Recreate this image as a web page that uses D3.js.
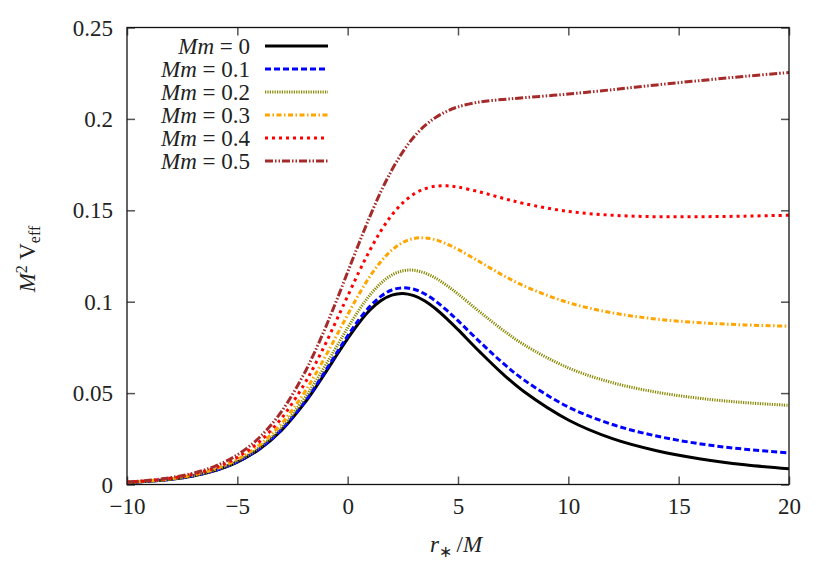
<!DOCTYPE html>
<html><head><meta charset="utf-8">
<script src="https://cdn.jsdelivr.net/npm/d3@7"></script>
<style>body{margin:0;background:#fff}svg{display:block}text{font-family:"Liberation Serif","Times New Roman",serif}</style>
</head><body>
<svg id="chart" width="830" height="581"></svg>
<script>
// r*/M sample positions
const rStar = [-10,-9,-8,-7,-6,-5,-4,-3,-2,-1.5,-1,-0.5,0,0.5,1,1.5,2,2.5,3,3.5,4,4.5,5,6,7,8,10,12,14,16,18,20];
const massLabels = ["0","0.1","0.2","0.3","0.4","0.5"];
const vMm00 = [0.0011,0.0018,0.0029,0.0047,0.0076,0.0122,0.0193,0.0296,0.0438,0.0522,0.0613,0.0707,0.0798,0.0882,0.0953,0.1005,0.1036,0.1045,0.1033,0.1004,0.0960,0.0906,0.0847,0.0724,0.0608,0.0507,0.0353,0.0251,0.0185,0.0140,0.0108,0.0086];
const vMm01 = [0.0011,0.0018,0.0029,0.0048,0.0077,0.0124,0.0195,0.0300,0.0444,0.0530,0.0623,0.0719,0.0813,0.0900,0.0973,0.1029,0.1064,0.1076,0.1068,0.1042,0.1002,0.0952,0.0896,0.0779,0.0668,0.0571,0.0424,0.0328,0.0265,0.0222,0.0193,0.0173];
const vMm02 = [0.0011,0.0018,0.0030,0.0049,0.0080,0.0128,0.0203,0.0313,0.0464,0.0555,0.0653,0.0755,0.0857,0.0952,0.1035,0.1100,0.1146,0.1169,0.1172,0.1157,0.1128,0.1088,0.1042,0.0943,0.0848,0.0764,0.0638,0.0557,0.0505,0.0471,0.0448,0.0433];
const vMm03 = [0.0012,0.0020,0.0032,0.0052,0.0085,0.0137,0.0216,0.0333,0.0496,0.0595,0.0702,0.0815,0.0929,0.1038,0.1137,0.1219,0.1282,0.1324,0.1346,0.1349,0.1338,0.1315,0.1286,0.1217,0.1147,0.1086,0.0995,0.0939,0.0905,0.0885,0.0873,0.0866];
const vMm04 = [0.0013,0.0021,0.0035,0.0057,0.0092,0.0148,0.0234,0.0362,0.0542,0.0651,0.0771,0.0900,0.1031,0.1160,0.1280,0.1386,0.1474,0.1541,0.1589,0.1618,0.1632,0.1634,0.1627,0.1600,0.1567,0.1537,0.1494,0.1473,0.1465,0.1465,0.1468,0.1473];
const vMm05 = [0.0014,0.0023,0.0038,0.0062,0.0101,0.0162,0.0257,0.0399,0.0600,0.0723,0.0860,0.1008,0.1162,0.1316,0.1464,0.1601,0.1720,0.1820,0.1901,0.1963,0.2009,0.2042,0.2066,0.2093,0.2106,0.2116,0.2136,0.2160,0.2186,0.2210,0.2233,0.2254];
const xTicks = [-10,-5,0,5,10,15,20];
const yTicks = [0,0.05,0.1,0.15,0.2,0.25];
const yTickLabels = ["0","0.05","0.1","0.15","0.2","0.25"];

const seriesValues = [vMm00,vMm01,vMm02,vMm03,vMm04,vMm05];
const styles = [
  {color:"#000000", dash:null, w:3},
  {color:"#0000ff", dash:"6,3", w:3},
  {color:"#888800", dash:"1.2,1.2", w:3},
  {color:"#ffa500", dash:"5,2.5,1.5,2.5", w:3},
  {color:"#ff0000", dash:"3,4", w:3},
  {color:"#a52a2a", dash:"8,2,1.5,2,1.5,2", w:3}
];

const svg = d3.select("#chart");
const L=127, R=789, T=27.5, B=484.5;
const FS = 23;
const x = d3.scaleLinear().domain([-10,20]).range([L,R]);
const y = d3.scaleLinear().domain([0,0.25]).range([B,T]);

svg.append("defs").append("clipPath").attr("id","clip")
  .append("rect").attr("x",L).attr("y",T).attr("width",R-L).attr("height",B-T);

// axes with inward ticks (mirror)
const tickLen = 8;
const gx = svg.append("g").attr("transform",`translate(0,${B})`)
  .call(d3.axisBottom(x).tickValues(xTicks).tickSize(-tickLen).tickPadding(14)
    .tickFormat(d => d<0 ? "\u2212"+Math.abs(d) : String(d)));
const gxt = svg.append("g").attr("transform",`translate(0,${T})`)
  .call(d3.axisTop(x).tickValues(xTicks).tickSize(-tickLen).tickFormat(""));
const gy = svg.append("g").attr("transform",`translate(${L},0)`)
  .call(d3.axisLeft(y).tickValues(yTicks).tickSize(-tickLen).tickPadding(14)
    .tickFormat((d,i)=>yTickLabels[i]));
const gyr = svg.append("g").attr("transform",`translate(${R},0)`)
  .call(d3.axisRight(y).tickValues(yTicks).tickSize(-tickLen).tickFormat(""));
[gx,gxt,gy,gyr].forEach(g=>{
  g.select(".domain").remove();
  g.selectAll(".tick line").attr("stroke","#555").attr("stroke-width",1.5);
  g.selectAll("text").attr("font-size",FS).attr("fill","#222")
    .attr("font-family","'Liberation Serif',serif");
});
gx.selectAll("text").attr("dy","0.66em");
gy.selectAll("text").attr("dy","0.33em");

// lines
const line = d3.line().x((d,i)=>x(rStar[i])).y(d=>y(d)).curve(d3.curveCatmullRom.alpha(0.5));
const plot = svg.append("g").attr("clip-path","url(#clip)");
seriesValues.forEach((vals,k)=>{
  plot.append("path").datum(vals).attr("d",line)
    .attr("fill","none").attr("stroke",styles[k].color)
    .attr("stroke-width",styles[k].w)
    .attr("stroke-dasharray",styles[k].dash)
    .attr("stroke-linejoin","round");
});

// frame
svg.append("rect").attr("x",L).attr("y",T).attr("width",R-L).attr("height",B-T)
  .attr("fill","none").attr("stroke","#111").attr("stroke-width",1.3);

// legend
const lg = svg.append("g");
massLabels.forEach((m,k)=>{
  const yy = 46 + k*23;
  const t = lg.append("text").attr("x",250).attr("y",yy).attr("dy","0.35em")
    .attr("text-anchor","end").attr("font-size",FS).attr("fill","#222");
  t.append("tspan").attr("font-style","italic").text("Mm");
  t.append("tspan").text(" = "+m);
  lg.append("line").attr("x1",265).attr("x2",328).attr("y1",yy).attr("y2",yy)
    .attr("stroke",styles[k].color).attr("stroke-width",styles[k].w)
    .attr("stroke-dasharray",styles[k].dash);
});

// axis titles
const xl = svg.append("text").attr("x",456).attr("y",552).attr("text-anchor","middle")
  .attr("font-size",FS).attr("fill","#222");
xl.append("tspan").attr("font-style","italic").text("r");
xl.append("tspan").attr("font-size",16).attr("dy",5).text("\u2217");
xl.append("tspan").attr("dy",-5).text("\u2009/");
xl.append("tspan").attr("font-style","italic").text("M");

const yl = svg.append("text").attr("transform","translate(35,259) rotate(-90)")
  .attr("text-anchor","middle").attr("font-size",FS).attr("fill","#222");
yl.append("tspan").attr("font-style","italic").text("M");
yl.append("tspan").attr("font-size",16).attr("dy",-8).text("2");
yl.append("tspan").attr("dy",8).text(" V");
yl.append("tspan").attr("font-size",16).attr("dy",5).text("eff");
</script>
</body></html>
